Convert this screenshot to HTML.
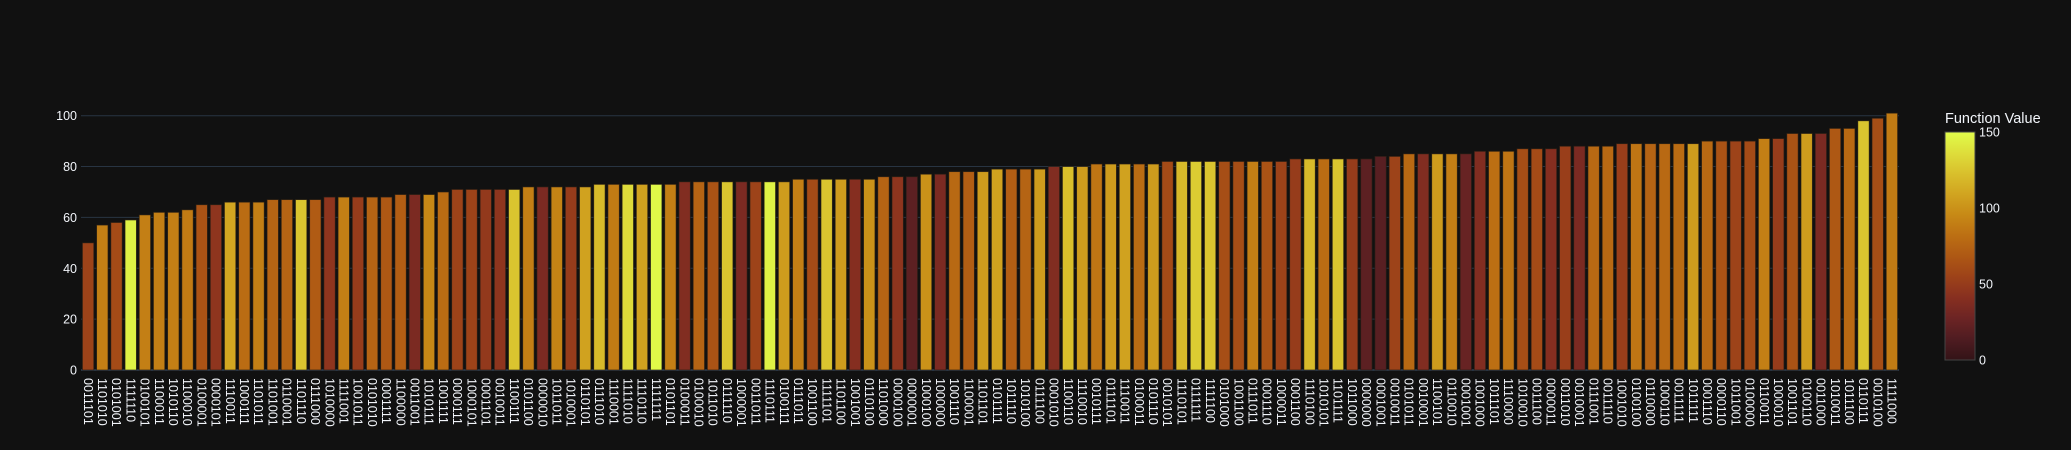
<!DOCTYPE html>
<html><head><meta charset="utf-8">
<style>
html,body{margin:0;padding:0;background:#111111;}
svg{display:block;font-family:"Liberation Sans",sans-serif;}
</style></head>
<body>
<svg id="chart" width="2071" height="450" viewBox="0 0 2071 450" xmlns="http://www.w3.org/2000/svg">
<rect x="0" y="0" width="2071" height="450" fill="#111111"/>
<g id="grid"></g>
<g id="bars"></g>
<g id="yticks"></g>
<g id="xticks"></g>
<g id="cbar"></g>
</svg>
<script>
const categories = ["0011101","1101010","0101001","1111110","0100101","1100011","1010110","1100010","0100001","0000101","1110011","1000111","1101011","1101001","0110001","1101110","0111000","1010000","1111001","1001011","0101010","0001111","1100000","0011001","1010111","1001111","0000111","1000101","0001101","0010011","1100111",
"0101100","0000010","1011011","1010001","0110101","0111010","1110001","1111010","1110110","1111111","0101101","0100011","0100010","1011010","0111110","1000001",
"0011011","1110111","0100111","0111011","1001100","1111101","1101100","1001001","0110100","1101000","0000100","0000001","1000100","1000000","1001110","1100001",
"1101101","0101111","1011110","1010100","0111100","0001010","1100110","1110010","0010111","0111101","1110011","0100011","0101110","0010101","1110101","0111111",
"1111100","0101000","1001100","0111011","0001110","1000011","0001100","1110100","1010101","1101111","1011000","0000000","0001001","0010011","0101011","0010001","1100101",
"0110010","0001001","1001000","1011101","1110000","1010010","0011100","0000011","0011010","0010001","0111001","0011110","1001010","0100100","0110000","1000110",
"0011111","1011111","0001110","0000110","1011001","0100000","0110011","1000010","1001101","0100110","0011000","1010011","1011100","0110111","0010100","1111000"];
const heights = [50,57,58,59,61,62,62,63,65,65,66,66,66,67,67,67,67,68,68,68,68,68,69,69,69,70,71,71,71,71,71,
72,72,72,72,72,73,73,73,73,73,73,74,74,74,74,74,74,74,74,75,75,75,75,75,75,76,76,76,77,77,78,78,78,
79,79,79,79,80,80,80,81,81,81,81,81,82,82,82,82,82,82,82,82,82,83,83,83,83,83,83,84,84,85,85,85,
85,85,86,86,86,87,87,87,88,88,88,88,89,89,89,89,89,89,90,90,90,90,91,91,93,93,93,95,95,98,99,101];
const fvalues = [55,90,60,145,90,90,90,88,65,45,110,80,90,75,75,125,70,45,90,50,75,68,72,35,95,80,55,55,48,45,125,
90,35,92,50,108,120,88,135,108,148,90,38,75,65,125,35,
55,145,105,90,60,125,105,40,100,75,45,20,100,35,78,72,
105,108,72,75,105,38,122,105,85,105,108,80,105,60,120,128,
125,62,62,90,65,55,50,120,80,125,50,20,18,55,78,38,105,
90,25,38,82,85,62,60,40,52,35,78,78,52,85,75,78,
80,105,78,65,55,60,90,50,65,105,35,68,78,125,62,88];
const yTicks = [0,20,40,60,80,100];
const cbTicks = [0,50,100,150];

const NS="http://www.w3.org/2000/svg";
const X0=81, X1=1899, Y0=370, PXU=2.543;
const pitch=(X1-X0)/categories.length;
const xCenter=i=>X0+pitch*(i+0.5);
const yPos=v=>Y0-v*PXU;
const scale=[[0,[51,19,23]],[0.091,[79,28,33]],[0.182,[108,36,36]],[0.273,[135,47,32]],[0.364,[157,66,25]],[0.455,[174,88,20]],[0.545,[188,111,19]],[0.636,[199,137,22]],[0.727,[209,164,32]],[0.818,[217,192,44]],[0.909,[222,222,59]],[1,[224,253,74]]];
function color(v){let t=Math.max(0,Math.min(1,v/150));for(let k=1;k<scale.length;k++){if(t<=scale[k][0]){const a=scale[k-1],b=scale[k];const f=(t-a[0])/(b[0]-a[0]);const c=a[1].map((x,j)=>Math.round(x+(b[1][j]-x)*f));return `rgb(${c.join(',')})`;}}return 'rgb(224,253,74)';}
function mk(tag,attrs,parent){const e=document.createElementNS(NS,tag);for(const k in attrs)e.setAttribute(k,attrs[k]);parent.appendChild(e);return e;}

const grid=document.getElementById('grid'), yt=document.getElementById('yticks');
yTicks.forEach(v=>{
  const l=mk('line',{x1:X0,x2:X1,y1:yPos(v),y2:yPos(v),stroke:'#283442','stroke-width':v===0?2:1},grid);
  
  
  const t=mk('text',{x:77,y:yPos(v)+4.5,'text-anchor':'end',fill:'#f2f5fa','font-size':12.5},yt);
  t.textContent=v;
  
  
});
const bars=document.getElementById('bars'), xt=document.getElementById('xticks');
const bw=pitch*0.8;
categories.forEach((c,i)=>{
  const r=mk('rect',{x:xCenter(i)-bw/2,y:yPos(heights[i]),width:bw,height:heights[i]*PXU,fill:color(fvalues[i]),stroke:'rgba(40,30,20,0.8)','stroke-width':0.8},bars);
  
  
  const t=mk('text',{x:0,y:0,transform:`translate(${xCenter(i)-4.3},378) rotate(90)`,fill:'#f2f5fa','font-size':12.5},xt);
  t.textContent=c;
  
  
});
const cb=document.getElementById('cbar');
const defs=mk('defs',{},cb);
const g=mk('linearGradient',{id:'cg',x1:0,y1:1,x2:0,y2:0},defs);
scale.forEach(s=>mk('stop',{offset:s[0],'stop-color':`rgb(${s[1].join(',')})`},g));
const CBT=132, CBB=360;
const cr=mk('rect',{x:1945,y:CBT,width:30,height:CBB-CBT,fill:'url(#cg)',stroke:'#444','stroke-width':1},cb);


cbTicks.forEach(v=>{
  const t=mk('text',{x:1979,y:CBB-(v/150)*(CBB-CBT)+4.5,fill:'#f2f5fa','font-size':12.5},cb);
  t.textContent=v;
  
  
});
const ct=mk('text',{x:1945,y:123,fill:'#f2f5fa','font-size':14.5},cb);
ct.textContent='Function Value';


</script>
</body></html>
